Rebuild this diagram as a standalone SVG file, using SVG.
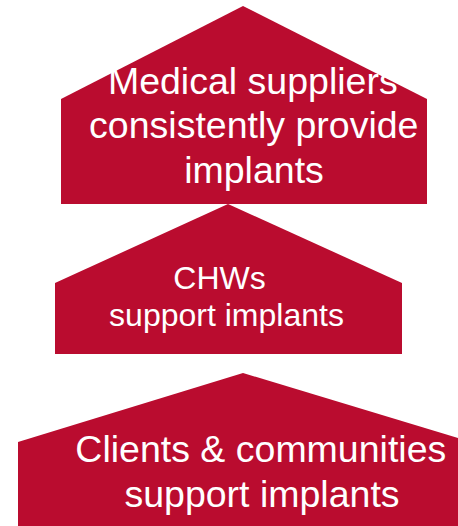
<svg xmlns="http://www.w3.org/2000/svg" width="458" height="526" viewBox="0 0 458 526">
  <style>
    .house { fill: #BA0C2F; }
    .label { fill: #FFFFFF; font-family: "Liberation Sans", Arial, sans-serif; text-anchor: middle; }
  </style>
  <rect width="458" height="526" fill="#FFFFFF"/>
  <g id="connectors"/>
  <g id="node-suppliers">
    <polygon class="house" points="61,99 243,6 427,99 427,204 61,204"/>
    <text class="label" font-size="37.5">
      <tspan x="258" y="94">Medical suppliers</tspan>
      <tspan x="259" y="138">consistently provide</tspan>
      <tspan x="254" y="183">implants</tspan>
    </text>
  </g>
  <g id="node-chws">
    <polygon class="house" points="55,283 228,204 402,283 402,354 55,354"/>
    <text class="label" font-size="32">
      <tspan x="224" y="289">CHWs</tspan>
      <tspan x="226.5" y="326">support implants</tspan>
    </text>
  </g>
  <g id="node-clients">
    <polygon class="house" points="18,442 243,373 458,438 458,526 18,526"/>
    <text class="label" font-size="37.5">
      <tspan x="266" y="462">Clients &amp; communities</tspan>
      <tspan x="262" y="507">support implants</tspan>
    </text>
  </g>
</svg>
